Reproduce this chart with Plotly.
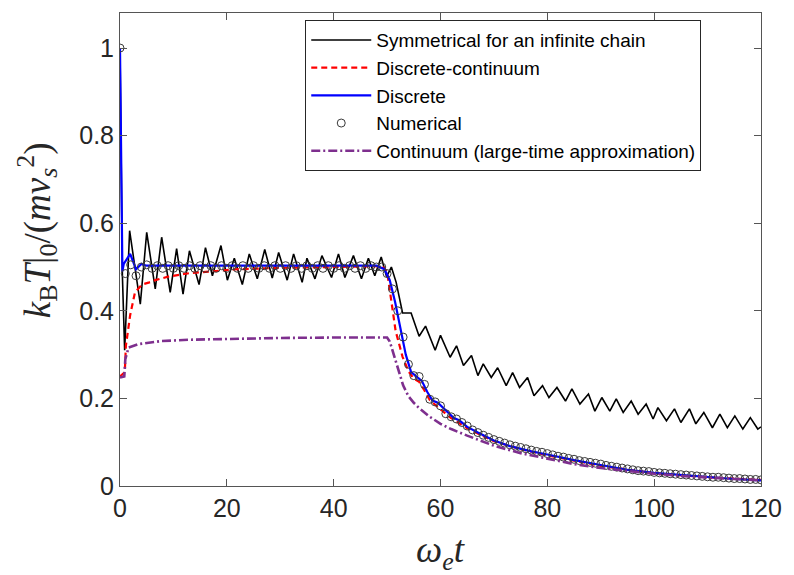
import plotly.graph_objects as go

# ---------------- data ----------------
sym_t = [0, 0.45, 0.87, 1.8, 3.8, 5.0, 6.6, 7.8, 9.4, 10.6, 11.8, 13.0, 14.8, 16.0, 17.3,
         18.9, 20.1, 21.4, 22.9, 24.2, 25.7, 27.1, 28.5, 29.7, 31.3, 32.5, 34.1, 35.0, 36.5,
         37.8, 39.6, 40.9, 42.1, 43.7, 45.2, 46.5, 47.7, 48.9, 49.9, 50.8, 51.7, 52.9, 54.5,
         56.0, 57.2, 59.0, 60.0, 61.8, 63.0, 64.3, 65.8, 67.0, 68.0, 69.5, 70.7, 72.3, 73.5,
         74.8, 76.3, 77.5, 79.1, 80.3, 81.8, 83.4, 84.6, 86.1, 87.7, 88.9, 90.2, 91.7, 92.9,
         94.2, 95.7, 97.0, 98.5, 99.8, 100.7, 102.3, 103.8, 105.0, 106.6, 107.8, 109.3, 110.9,
         112.3, 113.7, 115.1, 116.6, 118.0, 119.4, 120.0]
sym_v = [1.0, 0.48, 0.31, 0.583, 0.415, 0.579, 0.45, 0.568, 0.442, 0.542, 0.438, 0.537, 0.46,
         0.544, 0.48, 0.549, 0.47, 0.52, 0.46, 0.53, 0.473, 0.54, 0.475, 0.533, 0.47, 0.53,
         0.465, 0.52, 0.473, 0.526, 0.476, 0.53, 0.476, 0.526, 0.473, 0.52, 0.48, 0.523, 0.478,
         0.50, 0.465, 0.395, 0.395, 0.342, 0.365, 0.31, 0.344, 0.294, 0.32, 0.275, 0.298, 0.252,
         0.279, 0.248, 0.27, 0.229, 0.259, 0.225, 0.248, 0.206, 0.229, 0.202, 0.225, 0.194,
         0.222, 0.187, 0.21, 0.171, 0.202, 0.171, 0.199, 0.168, 0.194, 0.164, 0.187, 0.153,
         0.179, 0.149, 0.176, 0.145, 0.176, 0.142, 0.168, 0.133, 0.164, 0.133, 0.16, 0.13,
         0.156, 0.13, 0.135]

dc_t = [0, 0.9, 1.1, 1.5, 1.9, 2.8, 4.1, 5.5, 6.6, 9, 11, 13, 17, 22, 30, 40, 49, 50, 50.7,
        51.6, 52.9, 54, 55, 56, 57, 58, 60, 62, 65, 70, 75, 80, 90, 100, 110, 120]
dc_v = [0.25, 0.26, 0.32, 0.36, 0.39, 0.442, 0.46, 0.465, 0.47, 0.478, 0.482, 0.486, 0.49,
        0.495, 0.498, 0.50, 0.502, 0.49, 0.43, 0.354, 0.295, 0.262, 0.245, 0.238, 0.218,
        0.196, 0.175, 0.155, 0.132, 0.102, 0.084, 0.07, 0.046, 0.029, 0.02, 0.014]

disc_t = [0, 0.45, 0.7, 1.9, 3.0, 4.0, 5, 10, 20, 30, 40, 48, 49.5, 50.5, 51.5, 52.5, 53.5,
          54.5, 55.5, 56.5, 57.5, 58.5, 59.5, 60.5, 61.5, 62.5, 63.5, 65, 67, 70, 73, 77, 80,
          85, 90, 95, 100, 105, 110, 115, 120]
disc_v = [1.0, 0.49, 0.507, 0.53, 0.495, 0.507, 0.503, 0.503, 0.503, 0.503, 0.503, 0.503,
          0.495, 0.47, 0.42, 0.36, 0.30, 0.26, 0.25, 0.24, 0.215, 0.195, 0.19, 0.178, 0.165,
          0.155, 0.15, 0.135, 0.122, 0.104, 0.091, 0.079, 0.072, 0.059, 0.048, 0.037, 0.03,
          0.025, 0.02, 0.016, 0.013]

num_t = list(range(0, 121))
num_v = [1.0, 0.485, 0.505, 0.48, 0.50, 0.505, 0.497, 0.503, 0.497, 0.503, 0.497, 0.503,
         0.497, 0.503, 0.497, 0.503, 0.497, 0.503, 0.497, 0.503, 0.497, 0.503, 0.497, 0.503,
         0.497, 0.503, 0.497, 0.503, 0.497, 0.503, 0.497, 0.503, 0.497, 0.503, 0.497, 0.503,
         0.497, 0.503, 0.497, 0.503, 0.497, 0.503, 0.497, 0.503, 0.497, 0.503, 0.497, 0.503,
         0.50, 0.50, 0.485, 0.45, 0.40, 0.34, 0.278, 0.252, 0.25, 0.232, 0.198, 0.192, 0.183,
         0.165, 0.158, 0.153, 0.145, 0.137, 0.128, 0.122, 0.116, 0.111, 0.106, 0.102, 0.098,
         0.094, 0.091, 0.088, 0.085, 0.082, 0.079, 0.077, 0.074, 0.071, 0.068, 0.066, 0.063,
         0.061, 0.058, 0.056, 0.054, 0.052, 0.050, 0.047, 0.045, 0.043, 0.041, 0.039, 0.037,
         0.035, 0.034, 0.033, 0.031, 0.030, 0.029, 0.028, 0.027, 0.026, 0.025, 0.024, 0.023,
         0.022, 0.021, 0.020, 0.020, 0.019, 0.018, 0.017, 0.017, 0.016, 0.015, 0.015, 0.014]

cont_t = [0, 0.8, 1.0, 1.6, 3.5, 7.8, 13, 20, 30, 40, 50, 50.5, 51, 52, 53, 54, 55, 56, 58,
          60, 62, 65, 70, 75, 80, 85, 90, 95, 100, 105, 110, 115, 120]
cont_v = [0.248, 0.25, 0.29, 0.316, 0.324, 0.331, 0.334, 0.336, 0.338, 0.339, 0.339, 0.33,
          0.31, 0.265, 0.23, 0.205, 0.19, 0.178, 0.158, 0.142, 0.13, 0.115, 0.092, 0.075,
          0.062, 0.05, 0.041, 0.034, 0.028, 0.023, 0.019, 0.016, 0.013]

names = ["Symmetrical for an infinite chain", "Discrete-continuum", "Discrete",
         "Numerical", "Continuum (large-time approximation)"]
x_ticks = [0, 20, 40, 60, 80, 100, 120]
y_ticks = [0, 0.2, 0.4, 0.6, 0.8, 1]
y_tick_text = ["0", "0.2", "0.4", "0.6", "0.8", "1"]

# ---------------- figure ----------------
fig = go.Figure()
fig.add_trace(go.Scatter(x=sym_t, y=sym_v, mode="lines", name=names[0],
                         line=dict(color="black", width=1.6)))
fig.add_trace(go.Scatter(x=dc_t, y=dc_v, mode="lines", name=names[1],
                         line=dict(color="#ff0000", width=2.2, dash="6px,4px")))
fig.add_trace(go.Scatter(x=disc_t, y=disc_v, mode="lines", name=names[2],
                         line=dict(color="#0000ff", width=2.2)))
fig.add_trace(go.Scatter(x=num_t, y=num_v, mode="markers", name=names[3],
                         marker=dict(symbol="circle-open", size=8, color="#3a3a3a",
                                     line=dict(color="#3a3a3a", width=1))))
fig.add_trace(go.Scatter(x=cont_t, y=cont_v, mode="lines", name=names[4],
                         line=dict(color="#7e2f8e", width=2.6, dash="9px,3px,2px,3px")))

axis_common = dict(showgrid=False, zeroline=False, showline=True, linecolor="#555555",
                   linewidth=1, mirror="ticks", ticks="inside", ticklen=7,
                   tickcolor="#555555", tickwidth=1,
                   tickfont=dict(family="Liberation Sans, Arial, sans-serif", size=25,
                                 color="#262626"))

fig.update_xaxes(range=[0, 120], tickvals=x_ticks, ticktext=[str(v) for v in x_ticks],
                 **axis_common)
fig.update_yaxes(range=[0, 1.08], tickvals=y_ticks, ticktext=y_tick_text, **axis_common)

fig.update_layout(
    width=794, height=575,
    margin=dict(l=120, r=28, t=13, b=89),
    plot_bgcolor="white", paper_bgcolor="white",
    showlegend=True,
    legend=dict(x=0.289, y=0.985, xanchor="left", yanchor="top",
                bgcolor="white", bordercolor="#262626", borderwidth=1,
                font=dict(family="Liberation Sans, Arial, sans-serif", size=19,
                          color="black"),
                itemwidth=60, tracegroupgap=0),
    annotations=[
        dict(text="<i>ω</i><sub><i>e</i></sub><i>t</i>", xref="paper", yref="paper",
             x=0.5, y=-0.14, xanchor="center", yanchor="middle", showarrow=False,
             font=dict(family="Liberation Serif, serif", size=37, color="#262626")),
        dict(text="<i>k</i><sub>B</sub><i>T</i>|<sub>0</sub>/(<i>mv</i><sub><i>s</i></sub><sup>2</sup>)",
             xref="paper", yref="paper", x=-0.13, y=0.54, xanchor="center",
             yanchor="middle", textangle=-90, showarrow=False,
             font=dict(family="Liberation Serif, serif", size=37, color="#262626")),
    ],
)

fig.write_html("out.html", config={"displayModeBar": False},
               post_script="document.body.style.margin='0';document.body.style.padding='0';")
